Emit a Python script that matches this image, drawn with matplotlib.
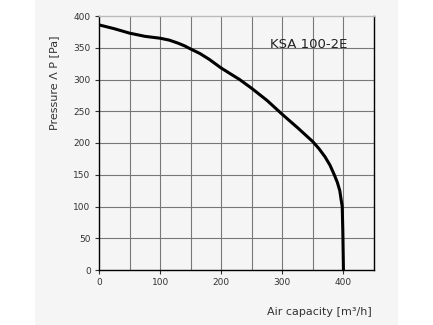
import matplotlib
matplotlib.use("Agg")
import matplotlib.pyplot as plt
from matplotlib.patches import Rectangle

# curve
airflow = [0, 25, 50, 75, 100, 115, 130, 140, 150, 165, 180, 200, 230, 250, 275,
           300, 325, 350, 360, 370, 378, 385, 390, 394, 396, 398, 399, 400]
pressure = [386, 380, 373, 368, 365, 362, 357, 353, 348, 341, 332, 318, 300, 286, 267,
            245, 224, 202, 191, 178, 165, 150, 138, 125, 112, 100, 60, 0]

x_ticks = [0, 100, 200, 300, 400]
y_ticks = [0, 50, 100, 150, 200, 250, 300, 350, 400]
x_grid = [50, 100, 150, 200, 250, 300, 350, 400]
y_grid = [50, 100, 150, 200, 250, 300, 350]

bg = "#f5f5f5"

fig = plt.figure(figsize=(4.33, 3.25), dpi=100, facecolor="white")
# grey panel behind the chart
fig.patches.append(Rectangle((35 / 433, 0), 363 / 433, 1, transform=fig.transFigure,
                             facecolor=bg, edgecolor="none", zorder=-5))

ax = fig.add_axes([99 / 433, 55 / 325, 275 / 433, 254 / 325])
ax.set_zorder(2)
ax.set_facecolor(bg)

for gx in x_grid:
    ax.axvline(gx, color="#777777", lw=0.8, zorder=1)
for gy in y_grid:
    ax.axhline(gy, color="#777777", lw=0.8, zorder=1)

ax.plot(airflow, pressure, color="black", lw=2.2, solid_joinstyle="round",
        solid_capstyle="butt", zorder=3)

ax.set_xlim(0, 450)
ax.set_ylim(0, 400)
ax.set_xticks(x_ticks)
ax.set_yticks(y_ticks)
ax.tick_params(labelsize=6.5, colors="#333333", length=3, width=0.8, pad=3)

ax.spines["left"].set_color("black")
ax.spines["bottom"].set_color("black")
ax.spines["right"].set_color("black")
ax.spines["top"].set_color("#bbbbbb")
for s in ax.spines.values():
    s.set_linewidth(1.0)

fig.text(347 / 433, 1 - 44 / 325, "KSA 100-2E", fontsize=9.5, color="#222222",
         ha="right", va="center", zorder=5)
fig.text(54 / 433, 1 - 83 / 325, "Pressure \u039b P [Pa]", rotation=90,
         fontsize=8, color="#333333", ha="center", va="center")
fig.text(372 / 433, 1 - 312 / 325, "Air capacity [m\u00b3/h]",
         fontsize=8, color="#333333", ha="right", va="center")

fig.savefig("out.png", dpi=100, facecolor="white")
